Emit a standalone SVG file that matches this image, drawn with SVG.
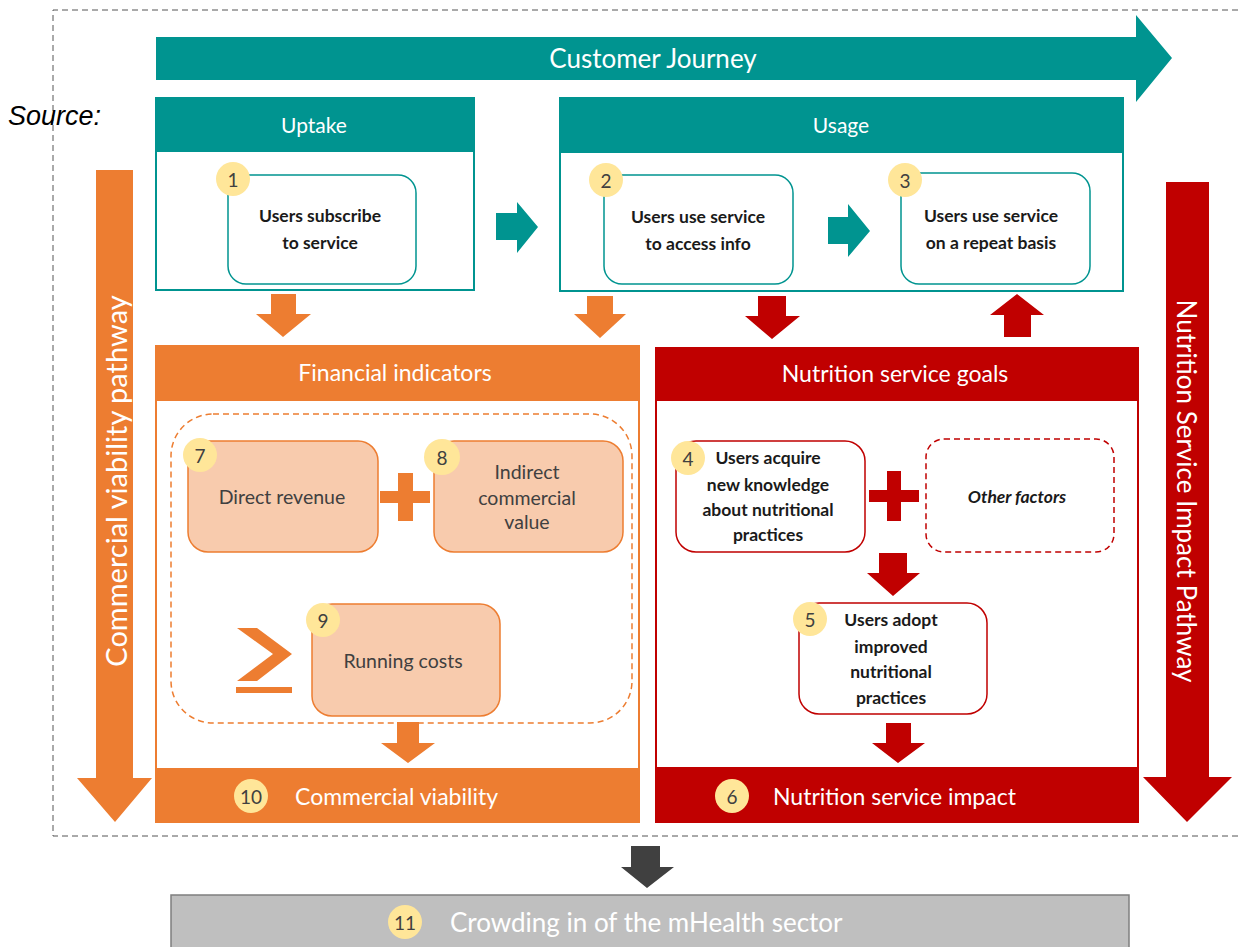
<svg xmlns="http://www.w3.org/2000/svg" width="1238" height="947" viewBox="0 0 1238 947">
<style>
text{font-family:Lato,"Open Sans","Liberation Sans",sans-serif;}
.wt{fill:#fff;text-anchor:middle;dominant-baseline:central;}
.nt{fill:#1a1a1a;text-anchor:middle;dominant-baseline:central;font-size:17.5px;font-weight:bold;}
.ot{fill:#404040;text-anchor:middle;dominant-baseline:central;font-size:19.5px;}
.bd{fill:#FFE699;}
.bn{fill:#404040;text-anchor:middle;dominant-baseline:central;font-size:19px;}
.teal{fill:#009490;}
.org{fill:#ED7D31;}
.red{fill:#C00000;}
.tnode{fill:#fff;stroke:#009490;stroke-width:1.5;}
.onode{fill:#F8CBAD;stroke:#ED7D31;stroke-width:1.5;}
.rnode{fill:#fff;stroke:#C00000;stroke-width:1.5;}
</style>
<rect width="1238" height="947" fill="#fff"/>
<path d="M1238,10 H53 V836 H1238" fill="none" stroke="#555" stroke-width="1" stroke-dasharray="6 4"/>
<text x="8" y="125" font-style="italic" font-size="27" fill="#000" style="font-family:'Liberation Sans',Arial,sans-serif">Source:</text>

<g id="customer-journey">
<polygon class="teal" points="156,37 1136,37 1136,15 1172,58 1136,102 1136,80 156,80"/>
<text class="wt" x="653" y="58" font-size="26">Customer Journey</text>
</g>

<g id="commercial-pathway">
<polygon class="org" points="96,170 133,170 133,778 152,778 115,822 77,778 96,778"/>
<text class="wt" font-size="29" transform="translate(115,481) rotate(-90)">Commercial viability pathway</text>
</g>

<g id="nutrition-pathway">
<polygon class="red" points="1166,182 1209,182 1209,777 1232,777 1187,822 1143,777 1166,777"/>
<text class="wt" font-size="26" transform="translate(1187,491) rotate(90)">Nutrition Service Impact Pathway</text>
</g>

<g id="uptake">
<rect x="156" y="98" width="318" height="192" fill="#fff" stroke="#009490" stroke-width="2"/>
<rect class="teal" x="156" y="98" width="318" height="54"/>
<text class="wt" x="314" y="124" font-size="21">Uptake</text>
</g>

<g id="usage">
<rect x="560" y="98" width="563" height="193" fill="#fff" stroke="#009490" stroke-width="2"/>
<rect class="teal" x="560" y="98" width="563" height="55"/>
<text class="wt" x="841" y="124" font-size="21">Usage</text>
</g>

<g id="node1">
<rect class="tnode" x="228" y="175" width="188" height="109" rx="18"/>
<circle class="bd" cx="233" cy="179" r="17"/>
<text class="bn" x="233" y="179">1</text>
<text class="nt" x="320" y="215">Users subscribe</text>
<text class="nt" x="320" y="242">to service</text>
</g>

<g id="node2">
<rect class="tnode" x="604" y="175" width="189" height="109" rx="18"/>
<circle class="bd" cx="606" cy="180" r="17"/>
<text class="bn" x="606" y="180">2</text>
<text class="nt" x="698" y="216">Users use service</text>
<text class="nt" x="698" y="243">to access info</text>
</g>

<g id="node3">
<rect class="tnode" x="901" y="173" width="189" height="111" rx="18"/>
<circle class="bd" cx="905" cy="180" r="17"/>
<text class="bn" x="905" y="180">3</text>
<text class="nt" x="991" y="215">Users use service</text>
<text class="nt" x="991" y="242">on a repeat basis</text>
</g>

<g id="financial-indicators">
<rect x="156" y="346" width="483" height="476" fill="#fff" stroke="#ED7D31" stroke-width="2"/>
<rect class="org" x="156" y="346" width="483" height="55"/>
<text class="wt" x="395" y="372" font-size="23">Financial indicators</text>
<rect x="171" y="414" width="461" height="309" rx="42" fill="none" stroke="#ED7D31" stroke-width="1.5" stroke-dasharray="6 4"/>
</g>

<g id="node7">
<rect class="onode" x="188" y="441" width="190" height="111" rx="20"/>
<circle class="bd" cx="200" cy="455" r="17"/>
<text class="bn" x="200" y="455">7</text>
<text class="ot" x="282" y="496">Direct revenue</text>
</g>

<g id="node8">
<rect class="onode" x="434" y="441" width="189" height="111" rx="20"/>
<circle class="bd" cx="442" cy="457" r="18"/>
<text class="bn" x="442" y="457">8</text>
<text class="ot" x="527" y="471">Indirect</text>
<text class="ot" x="527" y="497">commercial</text>
<text class="ot" x="527" y="521">value</text>
</g>

<g id="node9">
<rect class="onode" x="312" y="604" width="188" height="112" rx="20"/>
<circle class="bd" cx="323" cy="620" r="17"/>
<text class="bn" x="323" y="620">9</text>
<text class="ot" x="403" y="660">Running costs</text>
</g>

<g id="geq-sign">
<polygon class="org" points="237,628 257,628 292,654 257,681 237,681 273,654"/>
<rect class="org" x="236" y="687" width="56" height="6"/>
</g>

<g id="node10">
<rect class="org" x="156" y="768" width="483" height="54"/>
<circle class="bd" cx="251" cy="796" r="17"/>
<text class="bn" x="251" y="796">10</text>
<text x="295" y="796" fill="#fff" font-size="23" dominant-baseline="central">Commercial viability</text>
</g>

<g id="nutrition-goals">
<rect x="656" y="348" width="482" height="474" fill="#fff" stroke="#C00000" stroke-width="2"/>
<rect class="red" x="656" y="348" width="482" height="53"/>
<text class="wt" x="895" y="373" font-size="23">Nutrition service goals</text>
</g>

<g id="node4">
<rect class="rnode" x="676" y="441" width="189" height="111" rx="20"/>
<circle class="bd" cx="688" cy="458" r="17"/>
<text class="bn" x="688" y="458">4</text>
<text class="nt" x="768" y="457">Users acquire</text>
<text class="nt" x="768" y="484">new knowledge</text>
<text class="nt" x="768" y="509">about nutritional</text>
<text class="nt" x="768" y="534">practices</text>
</g>

<g id="other-factors">
<rect x="926" y="439" width="188" height="113" rx="18" fill="#fff" stroke="#C00000" stroke-width="1.5" stroke-dasharray="6 4"/>
<text class="nt" x="1017" y="496" font-style="italic">Other factors</text>
</g>

<g id="node5">
<rect class="rnode" x="799" y="603" width="188" height="111" rx="20"/>
<circle class="bd" cx="810" cy="619" r="17"/>
<text class="bn" x="810" y="619">5</text>
<text class="nt" x="891" y="619">Users adopt</text>
<text class="nt" x="891" y="646">improved</text>
<text class="nt" x="891" y="671">nutritional</text>
<text class="nt" x="891" y="697">practices</text>
</g>

<g id="node6">
<rect class="red" x="656" y="767" width="482" height="55"/>
<circle class="bd" cx="732" cy="796" r="17"/>
<text class="bn" x="732" y="796">6</text>
<text x="773" y="796" fill="#fff" font-size="23" dominant-baseline="central">Nutrition service impact</text>
</g>

<g id="node11">
<rect x="171" y="895" width="958" height="60" fill="#BFBFBF" stroke="#7F7F7F" stroke-width="1.5"/>
<circle class="bd" cx="405" cy="922" r="17"/>
<text class="bn" x="405" y="922">11</text>
<text x="450" y="922" fill="#fff" font-size="26" dominant-baseline="central">Crowding in of the mHealth sector</text>
</g>

<g id="connectors">
<polygon class="teal" points="496,213 517,213 517,202 538,227 517,253 517,240 496,240"/>
<polygon class="teal" points="828,217 848,217 848,204 870,231 848,257 848,244 828,244"/>
<polygon class="org" points="271,294 296,294 296,314 311,314 283,337 256,314 271,314"/>
<polygon class="org" points="587,296 613,296 613,314 626,314 600,338 574,314 587,314"/>
<polygon class="red" points="758,296 786,296 786,316 800,316 772,339 745,316 758,316"/>
<polygon class="red" points="1017,294 1044,315 1031,315 1031,337 1004,337 1004,315 990,315"/>
<rect class="org" x="380" y="491" width="50" height="12"/>
<rect class="org" x="398" y="473" width="15" height="48"/>
<rect class="red" x="869" y="490" width="50" height="12"/>
<rect class="red" x="887" y="471" width="14" height="50"/>
<polygon class="org" points="397,722 419,722 419,743 435,743 408,763 381,743 397,743"/>
<polygon class="red" points="879,553 907,553 907,573 920,573 893,596 867,573 879,573"/>
<polygon class="red" points="886,723 911,723 911,743 925,743 898,763 872,743 886,743"/>
<polygon fill="#404040" points="631,846 660,846 660,867 674,867 647,888 621,867 631,867"/>
</g>
</svg>
